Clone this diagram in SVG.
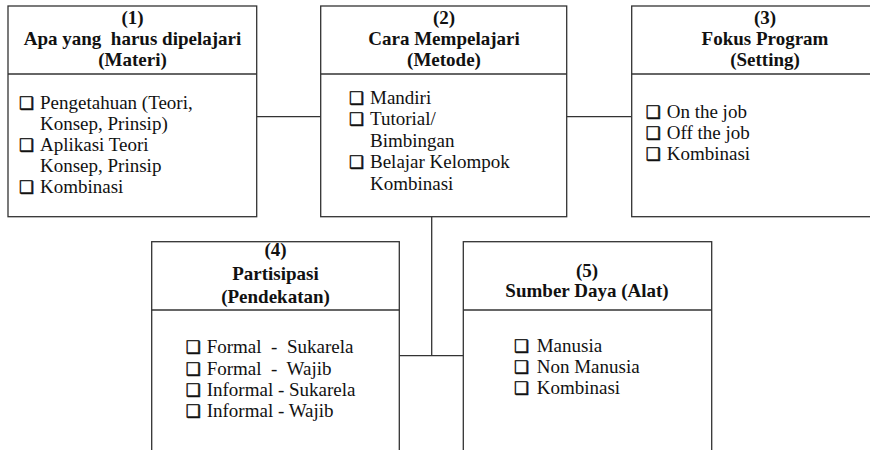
<svg xmlns="http://www.w3.org/2000/svg" width="870" height="450" viewBox="0 0 870 450">
<style>
  .box { fill: #fff; stroke: #333; stroke-width: 1.3; }
  .div { stroke: #333; stroke-width: 1.3; }
  .conn { stroke: #333; stroke-width: 1.3; fill: none; }
  .t { font-family: "Liberation Serif", "Times New Roman", serif; font-size: 19px; font-weight: bold; fill: #111; text-anchor: middle; }
  .b { font-family: "Liberation Serif", "Times New Roman", serif; font-size: 19px; fill: #111; white-space: pre; }
  .cb { font-family: "DejaVu Sans", sans-serif; font-size: 17px; fill: #111; stroke: #111; stroke-width: 0.5; }
</style>
<rect width="870" height="450" fill="#fff"/>
<g id="connectors">
  <line class="conn" x1="256.7" y1="116.7" x2="320.7" y2="116.7"/>
  <line class="conn" x1="566.7" y1="116.7" x2="631.7" y2="116.7"/>
  <line class="conn" x1="431.7" y1="216.7" x2="431.7" y2="355.7"/>
  <line class="conn" x1="399.3" y1="355.7" x2="463.3" y2="355.7"/>
</g>
<g id="node1">
  <rect class="box" x="8" y="6" width="248.7" height="210.7"/>
  <line class="div" x1="8" y1="74" x2="256.7" y2="74"/>
  <text class="t" x="132.5" y="24">(1)</text>
  <text class="t" x="132.5" y="45" xml:space="preserve">Apa yang  harus dipelajari</text>
  <text class="t" x="132.5" y="66">(Materi)</text>
  <text class="cb" x="19" y="109">❑</text><text class="b" x="40" y="109">Pengetahuan (Teori,</text>
  <text class="b" x="40" y="130">Konsep, Prinsip)</text>
  <text class="cb" x="19" y="151">❑</text><text class="b" x="40" y="151">Aplikasi Teori</text>
  <text class="b" x="40" y="172">Konsep, Prinsip</text>
  <text class="cb" x="19" y="193">❑</text><text class="b" x="40" y="193">Kombinasi</text>
</g>
<g id="node2">
  <rect class="box" x="320.7" y="6" width="246" height="210.7"/>
  <line class="div" x1="320.7" y1="74" x2="566.7" y2="74"/>
  <text class="t" x="444" y="24">(2)</text>
  <text class="t" x="444" y="45">Cara Mempelajari</text>
  <text class="t" x="444" y="66">(Metode)</text>
  <text class="cb" x="349" y="104">❑</text><text class="b" x="370" y="104">Mandiri</text>
  <text class="cb" x="349" y="125">❑</text><text class="b" x="370" y="125">Tutorial/</text>
  <text class="b" x="370" y="146.5">Bimbingan</text>
  <text class="cb" x="349" y="168">❑</text><text class="b" x="370" y="168">Belajar Kelompok</text>
  <text class="b" x="370" y="189.5">Kombinasi</text>
</g>
<g id="node3">
  <rect class="box" x="631.7" y="6" width="266.6" height="210.7"/>
  <line class="div" x1="631.7" y1="74" x2="898.3" y2="74"/>
  <text class="t" x="765" y="24">(3)</text>
  <text class="t" x="765" y="45">Fokus Program</text>
  <text class="t" x="765" y="66">(Setting)</text>
  <text class="cb" x="645.7" y="118">❑</text><text class="b" x="666.7" y="118">On the job</text>
  <text class="cb" x="645.7" y="139">❑</text><text class="b" x="666.7" y="139">Off the job</text>
  <text class="cb" x="645.7" y="160">❑</text><text class="b" x="666.7" y="160">Kombinasi</text>
</g>
<g id="node4">
  <rect class="box" x="151.7" y="241.7" width="247.6" height="220"/>
  <line class="div" x1="151.7" y1="310" x2="399.3" y2="310"/>
  <text class="t" x="275.5" y="256">(4)</text>
  <text class="t" x="275.5" y="279.5">Partisipasi</text>
  <text class="t" x="275.5" y="303">(Pendekatan)</text>
  <text class="cb" x="185.7" y="353">❑</text><text class="b" x="206.7" y="353" xml:space="preserve">Formal  -  Sukarela</text>
  <text class="cb" x="185.7" y="375">❑</text><text class="b" x="206.7" y="375" xml:space="preserve">Formal  -  Wajib</text>
  <text class="cb" x="185.7" y="396">❑</text><text class="b" x="206.7" y="396">Informal - Sukarela</text>
  <text class="cb" x="185.7" y="417">❑</text><text class="b" x="206.7" y="417">Informal - Wajib</text>
</g>
<g id="node5">
  <rect class="box" x="463.3" y="241.7" width="248.4" height="220"/>
  <line class="div" x1="463.3" y1="310" x2="711.7" y2="310"/>
  <text class="t" x="587" y="276.5">(5)</text>
  <text class="t" x="587" y="297">Sumber Daya (Alat)</text>
  <text class="cb" x="514" y="352">❑</text><text class="b" x="536.7" y="352">Manusia</text>
  <text class="cb" x="514" y="373">❑</text><text class="b" x="536.7" y="373">Non Manusia</text>
  <text class="cb" x="514" y="394">❑</text><text class="b" x="536.7" y="394">Kombinasi</text>
</g>
</svg>
